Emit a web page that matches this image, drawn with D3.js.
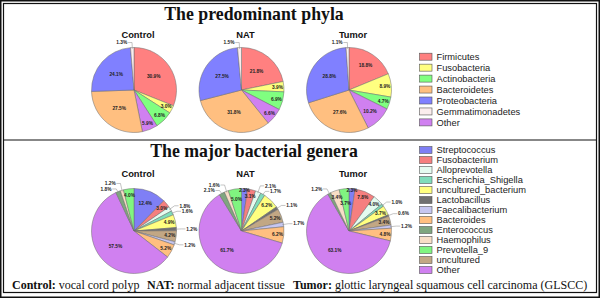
<!DOCTYPE html>
<html><head><meta charset="utf-8">
<script src="https://cdn.jsdelivr.net/npm/d3@7"></script>
<style>body{margin:0;background:#fff}</style>
</head><body>
<svg id="c" width="600" height="300"></svg>
<script>
// ---------- data ----------
const groups = ["Control", "NAT", "Tumor"];

const phylaLegend = ["Firmicutes", "Fusobacteria", "Actinobacteria", "Bacteroidetes", "Proteobacteria", "Gemmatimonadetes", "Other"];
const phylaColors = ["#FF8080", "#FFFF80", "#80FF80", "#FFBF80", "#8080FF", "#FBEDED", "#D080F0"];
const phylaPieOrder = ["Firmicutes", "Fusobacteria", "Actinobacteria", "Other", "Bacteroidetes", "Proteobacteria", "Gemmatimonadetes"];
const phylaControl = [30.9, 3.0, 6.8, 5.9, 27.5, 24.1, 1.3];
const phylaNAT = [21.8, 3.9, 6.9, 6.6, 31.8, 27.5, 1.5];
const phylaTumor = [18.8, 8.9, 4.7, 10.2, 27.6, 28.8, 1.1];

const generaLegend = ["Streptococcus", "Fusobacterium", "Alloprevotella", "Escherichia_Shigella", "uncultured_bacterium", "Lactobacillus", "Faecalibacterium", "Bacteroides", "Enterococcus", "Haemophilus", "Prevotella_9", "uncultured", "Other"];
const generaColors = ["#7F7FF5", "#F57F7F", "#E4FBF0", "#7FDDBB", "#FFFF80", "#707070", "#C6C6F0", "#FFBF80", "#7FA67F", "#F8DEC6", "#80F580", "#C2A784", "#D080F0"];
const generaPieOrder = ["Streptococcus", "Fusobacterium", "Alloprevotella", "Escherichia_Shigella", "uncultured_bacterium", "Lactobacillus", "uncultured", "Faecalibacterium", "Bacteroides", "Other", "Enterococcus", "Haemophilus", "Prevotella_9"];
const generaControl = [12.4, 3.0, 1.8, 1.6, 4.9, 1.2, 4.2, 1.2, 5.2, 57.5, 1.8, 1.2, 4.0];
const generaNAT = [2.3, 3.1, 2.1, 1.7, 6.2, 1.1, 5.2, 1.7, 6.2, 61.7, 2.1, 1.6, 5.0];
const generaTumor = [2.3, 7.8, 4.0, 1.0, 3.7, 0.6, 3.4, 1.2, 4.8, 63.1, 1.2, 3.4, 3.7];

const titles = ["The predominant phyla", "The major bacterial genera"];
const captionParts = [["Control:", " vocal cord polyp"], ["NAT:", " normal adjacent tissue"], ["Tumor:", " glottic laryngeal squamous cell carcinoma (GLSCC)"]];

// ---------- drawing ----------
const svg = d3.select("#c");
const SERIF = "'Liberation Serif','Times New Roman',serif";
const SANS = "'Liberation Sans',Arial,sans-serif";

// frame
svg.append("rect").attr("x", 0.75).attr("y", 0.75).attr("width", 598.5).attr("height", 296.5)
  .attr("fill", "none").attr("stroke", "#111").attr("stroke-width", 1.5);
svg.append("rect").attr("x", 3.5).attr("y", 3.5).attr("width", 593).attr("height", 289)
  .attr("fill", "none").attr("stroke", "#111").attr("stroke-width", 1.2);
svg.append("line").attr("x1", 3.5).attr("x2", 596.5).attr("y1", 140).attr("y2", 140)
  .attr("stroke", "#111").attr("stroke-width", 1.2);

// titles
const titleY = [19.5, 156.5];
titles.forEach((t, i) => {
  svg.append("text").attr("x", 254).attr("y", titleY[i]).attr("text-anchor", "middle")
    .attr("font-family", SERIF).attr("font-weight", "bold").attr("font-size", 17.8)
    .attr("fill", "#111").text(t);
});

// caption
const capX = [12, 147, 293];
captionParts.forEach((p, i) => {
  const t = svg.append("text").attr("x", capX[i]).attr("y", 289)
    .attr("font-family", SERIF).attr("font-size", 12).attr("fill", "#111");
  t.append("tspan").attr("font-weight", "bold").text(p[0]);
  t.append("tspan").text(p[1]);
});

const cx = d3.scalePoint().domain(groups).range([134, 349]);
const R = 42.5;
const arc = d3.arc().innerRadius(0).outerRadius(R);
const pie = d3.pie().sort(null).value(d => d.v);
const FS = 4.8;

function labelWidth(s) {
  let w = 0;
  for (const ch of s) w += ch === "." ? 0.278 : ch === "%" ? 0.889 : 0.556;
  return w * FS;
}

function drawPie(names, values, colorScale, cxv, cy) {
  const g = svg.append("g").attr("transform", `translate(${cxv},${cy})`);
  const data = names.map((n, i) => ({ n, v: values[i] }));
  const arcs = pie(data);
  g.selectAll("path").data(arcs).join("path")
    .attr("d", arc).attr("fill", d => colorScale(d.data.n))
    .attr("stroke", "#6a6a6a").attr("stroke-width", 0.5);

  const placed = [];
  const overlaps = b => placed.some(p => b.x0 < p.x1 && b.x1 > p.x0 && b.y0 < p.y1 && b.y1 > p.y0);
  const outside = [];

  arcs.forEach(d => {
    const a = (d.startAngle + d.endAngle) / 2;
    const sx = Math.sin(a), sy = -Math.cos(a);
    const lbl = d.data.v.toFixed(1) + "%";
    const w = labelWidth(lbl);
    if (d.data.v < 2.2) {
      outside.push({ sx, sy, lbl, w, right: sx >= 0, ey: sy * (R + 5), ex: sx * (R + 5) });
    } else {
      const base = d.data.v > 20 ? 0.56 * R : d.data.v > 9 ? 0.7 * R : d.data.v < 3 ? 0.95 * R : 0.85 * R;
      const cands = [base, base + 4, base - 4, base + 6.5, base - 8];
      let px, py, box;
      for (const rr of cands) {
        px = sx * rr; py = sy * rr;
        box = { x0: px - w / 2, x1: px + w / 2, y0: py - 2.3, y1: py + 2.3 };
        if (!overlaps(box)) break;
      }
      placed.push(box);
      g.append("text").attr("x", px).attr("y", py + 1.7)
        .attr("text-anchor", "middle")
        .attr("font-family", SANS).attr("font-weight", "bold").attr("font-size", FS)
        .attr("fill", "#222").text(lbl);
    }
  });

  // spread outside labels vertically on each side
  [true, false].forEach(side => {
    const L = outside.filter(o => o.right === side).sort((a, b) => a.ey - b.ey);
    L.forEach(o => o.ly = o.ey);
    for (let iter = 0; iter < 5; iter++) {
      for (let k = 1; k < L.length; k++) {
        const gap = L[k].ly - L[k - 1].ly;
        if (gap < 5.5) { const dd = (5.5 - gap) / 2; L[k - 1].ly -= dd; L[k].ly += dd; }
      }
    }
    L.forEach(o => {
      const hx = o.ex + (o.right ? 4 : -4);
      g.append("polyline")
        .attr("points", `${o.sx * R * 0.97},${o.sy * R * 0.97} ${o.ex},${o.ly} ${hx},${o.ly}`)
        .attr("fill", "none").attr("stroke", "#888").attr("stroke-width", 0.5);
      g.append("text").attr("x", hx + (o.right ? 0.8 : -0.8)).attr("y", o.ly + 1.7)
        .attr("text-anchor", o.right ? "start" : "end")
        .attr("font-family", SANS).attr("font-weight", "bold").attr("font-size", FS)
        .attr("fill", "#222").text(o.lbl);
    });
  });
}

const phylaColor = d3.scaleOrdinal().domain(phylaLegend).range(phylaColors);
const generaColor = d3.scaleOrdinal().domain(generaLegend).range(generaColors);

const phylaVals = [phylaControl, phylaNAT, phylaTumor];
const generaVals = [generaControl, generaNAT, generaTumor];

groups.forEach((gname, i) => {
  const x = cx(gname);
  svg.append("text").attr("x", x + 4).attr("y", 38).attr("text-anchor", "middle")
    .attr("font-family", SANS).attr("font-weight", "bold").attr("font-size", 9.3)
    .attr("fill", "#111").text(gname);
  drawPie(phylaPieOrder, phylaVals[i], phylaColor, x, 90);
  svg.append("text").attr("x", x + 4).attr("y", 176.5).attr("text-anchor", "middle")
    .attr("font-family", SANS).attr("font-weight", "bold").attr("font-size", 9.3)
    .attr("fill", "#111").text(gname);
  drawPie(generaPieOrder, generaVals[i], generaColor, x, 231);
});

// legends
function legend(names, colorScale, y0, step) {
  const ly = d3.scaleLinear().domain([0, names.length - 1]).range([y0, y0 + step * (names.length - 1)]);
  const g = svg.append("g");
  names.forEach((n, i) => {
    g.append("rect").attr("x", 419.5).attr("y", ly(i) - 3.5).attr("width", 12.5).attr("height", 7)
      .attr("fill", colorScale(n)).attr("stroke", "#555").attr("stroke-width", 0.6);
    g.append("text").attr("x", 436.5).attr("y", ly(i) + 3.3)
      .attr("font-family", SANS).attr("font-size", 9.3).attr("fill", "#222").text(n);
  });
}
legend(phylaLegend, phylaColor, 56.7, 10.95);
legend(generaLegend, generaColor, 150, 10);
</script>
</body></html>
